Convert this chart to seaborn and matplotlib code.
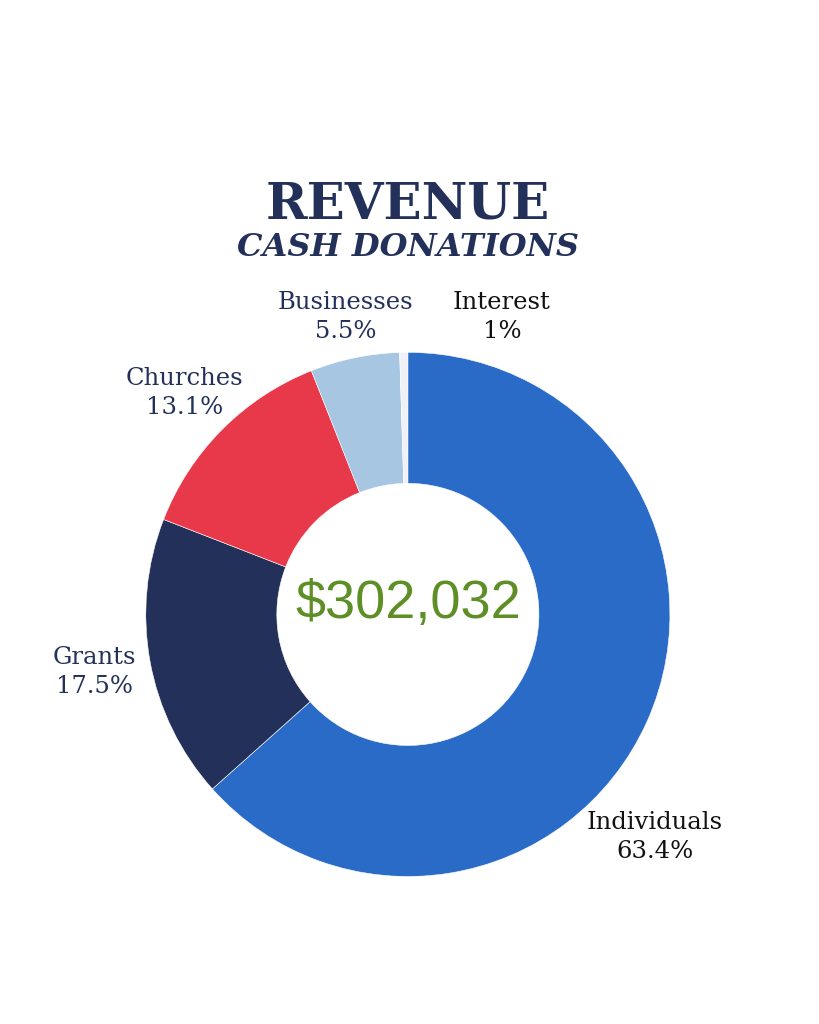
import matplotlib.pyplot as plt
import seaborn as sns

# Daten
categories = ["Individuals", "Grants", "Churches", "Businesses", "Interest"]
shares = [63.4, 17.5, 13.1, 5.5, 0.5]
share_labels = ["63.4%", "17.5%", "13.1%", "5.5%", "1%"]
total_label = "$302,032"

colors = ["#2B6BC8", "#22305A", "#E8394A", "#A6C6E2", "#EEF1F5"]
label_colors = ["#111111", "#22305A", "#22305A", "#22305A", "#111111"]
# label anchor (in radius units, relative to donut centre)
label_pos = [(0.943, -0.85), (-1.195, -0.22), (-0.851, 0.845), (-0.237, 1.135), (0.359, 1.135)]

sns.set_theme(style="white")
plt.rcParams["font.family"] = ["DejaVu Serif"]

fig = plt.figure(figsize=(8.19, 10.24), dpi=100)
fig.patch.set_facecolor("white")

ax = fig.add_axes([0.498 - 0.32, 0.400 - 0.256, 0.640, 0.512])
ax.pie(shares, colors=colors, startangle=90, counterclock=False,
       wedgeprops=dict(width=0.5, edgecolor="white", linewidth=0.4))
ax.set_xlim(-1, 1)
ax.set_ylim(-1, 1)
ax.set_aspect("equal")
ax.axis("off")

for name, pct, col, (x, y) in zip(categories, share_labels, label_colors, label_pos):
    ax.text(x, y, f"{name}\n{pct}", ha="center", va="center", fontsize=17.5,
            color=col, linespacing=1.3, clip_on=False)

ax.text(0, 0.04, total_label, ha="center", va="center", fontsize=39,
        color="#5E8E26", family="Liberation Sans")

fig.text(0.498, 0.8, "REVENUE", ha="center", va="center", fontsize=36,
         fontweight="bold", color="#22305A")
fig.text(0.498, 0.758, "CASH DONATIONS", ha="center", va="center", fontsize=23,
         fontweight="bold", fontstyle="italic", color="#22305A")

fig.savefig("out.png", dpi=100, facecolor="white")
